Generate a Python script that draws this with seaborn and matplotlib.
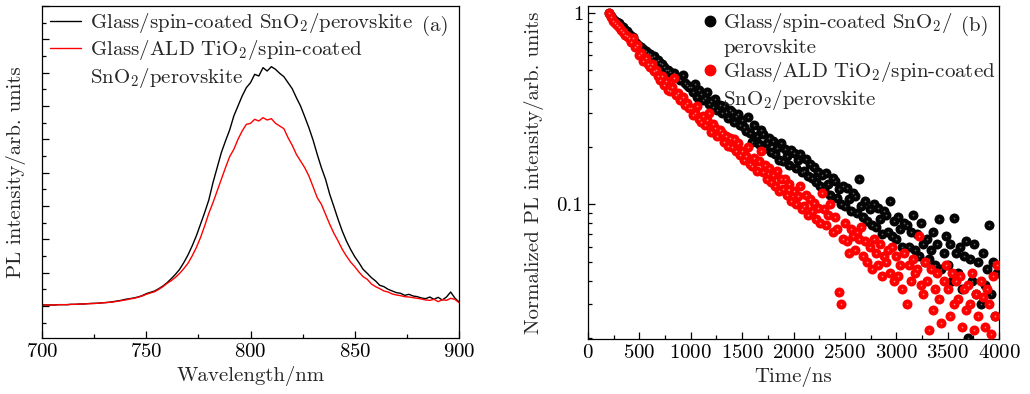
import numpy as np
import pandas as pd
import seaborn as sns
import matplotlib.pyplot as plt
from matplotlib.lines import Line2D
from matplotlib.ticker import MultipleLocator, LogLocator, FixedLocator, FixedFormatter, NullFormatter

# (a) steady-state PL, wavelength grid 700-900 nm every 2 nm
wavelength = np.arange(700, 901, 2)
pl_sno2 = [0.03, 0.03, 0.03, 0.03, 0.04, 0.04, 0.04, 0.05, 0.05, 0.06, 0.06, 0.07, 0.08, 0.08, 0.09, 0.10,
           0.11, 0.13, 0.15, 0.17, 0.20, 0.22, 0.24, 0.27, 0.31, 0.37, 0.41, 0.45, 0.52, 0.60, 0.70,
           0.82, 0.95, 1.10, 1.30, 1.53, 1.80, 2.10, 2.45, 2.80, 3.18, 3.70, 4.15, 4.60, 4.95, 5.28,
           5.70, 6.00, 6.30, 6.55, 6.70, 6.95, 6.90, 7.15, 7.05, 7.18, 7.10, 6.98, 6.88, 6.70, 6.52,
           6.25, 6.00, 5.68, 5.35, 4.98, 4.55, 4.15, 3.80, 3.35, 2.98, 2.60, 2.25, 1.95, 1.70, 1.48,
           1.30, 1.10, 0.98, 0.85, 0.75, 0.62, 0.58, 0.50, 0.45, 0.40, 0.38, 0.32, 0.35, 0.30, 0.28,
           0.24, 0.22, 0.27, 0.20, 0.26, 0.18, 0.27, 0.42, 0.24, 0.12]
pl_tio2_sno2 = [0.03, 0.03, 0.03, 0.03, 0.04, 0.04, 0.04, 0.05, 0.05, 0.06, 0.06, 0.07, 0.07, 0.08, 0.09, 0.10,
                0.11, 0.12, 0.14, 0.16, 0.18, 0.21, 0.23, 0.26, 0.30, 0.35, 0.39, 0.43, 0.50, 0.58, 0.68,
                0.76, 0.86, 0.98, 1.12, 1.28, 1.50, 1.75, 2.05, 2.40, 2.78, 3.10, 3.45, 3.80, 4.15, 4.48,
                4.70, 5.00, 5.25, 5.45, 5.48, 5.60, 5.55, 5.65, 5.58, 5.62, 5.48, 5.40, 5.32, 5.05, 4.82,
                4.55, 4.35, 4.15, 3.90, 3.58, 3.25, 3.05, 2.75, 2.45, 2.18, 1.95, 1.70, 1.50, 1.32, 1.18,
                1.02, 0.88, 0.80, 0.66, 0.58, 0.52, 0.45, 0.42, 0.36, 0.33, 0.31, 0.28, 0.27, 0.25, 0.23,
                0.21, 0.18, 0.17, 0.20, 0.13, 0.19, 0.17, 0.23, 0.20, 0.10]

# (b) TRPL, time grid 200-3980 ns every 20 ns, values x1000 (normalized)
time_ns = np.arange(200, 4000, 20)
trpl_sno2 = [1000, 960, 930, 905, 895, 880, 855, 845, 810, 800, 775, 760, 745, 700, 690,
             672, 665, 648, 630, 620, 612, 590, 595, 560, 565, 548, 540, 520, 505, 500,
             492, 470, 485, 460, 455, 448, 475, 430, 420, 410,
             412, 388, 425, 362, 395, 378, 352, 360, 385, 333,
             348, 322, 355, 311, 330, 298, 325, 305, 282, 310,
             302, 268, 288, 295, 258, 276, 252, 240, 285, 236,
             212, 258, 228, 206, 245, 232, 196, 210, 222, 188,
             214, 182, 196, 170, 208, 168, 195, 178, 160, 192,
             185, 155, 170, 182, 148, 150, 172, 140, 162, 138,
             156, 130, 148, 125, 142, 120, 145, 128, 112, 138,
             132, 108, 120, 100, 125, 98, 122, 106, 92, 115,
             110, 90, 135, 98, 86, 104, 82, 95, 78, 100,
             76, 96, 84, 70, 92, 88, 72, 104, 68, 82,
             66, 86, 74, 60, 80, 78, 60, 72, 88, 58,
             70, 54, 80, 62, 50, 66, 52, 58, 72, 48,
             62, 84, 46, 56, 68, 48, 62, 40, 85, 56,
             44, 60, 36, 54, 64, 20, 52, 40, 62, 34,
             50, 30, 56, 38, 46, 78, 34, 50, 26, 44]
trpl_tio2_sno2 = [1000, 950, 910, 880, 860, 845, 810, 790, 770, 760, 735, 700, 740, 660, 680,
                  600, 620, 560, 580, 540, 520, 540, 495, 500, 470, 445, 470, 420, 440, 395,
                  390, 410, 455, 370, 380, 350, 365, 330, 340, 320,
                  318, 292, 300, 325, 278, 268, 290, 258, 275, 300,
                  238, 262, 250, 228, 245, 236, 212, 228, 202, 222,
                  198, 220, 190, 208, 180, 190, 170, 178, 198, 162,
                  158, 175, 150, 168, 190, 148, 160, 136, 155, 130,
                  142, 125, 150, 118, 135, 120, 136, 112, 128, 104,
                  118, 100, 110, 124, 94, 98, 112, 88, 106, 92,
                  102, 84, 96, 80, 115, 94, 78, 88, 100, 72,
                  86, 74, 35, 30, 66, 80, 64, 56, 74, 68,
                  58, 72, 66, 76, 54, 64, 50, 60, 46, 66,
                  56, 48, 62, 42, 54, 50, 58, 44, 60, 40,
                  54, 42, 48, 36, 56, 30, 48, 40, 52, 44,
                  46, 68, 38, 34, 50, 40, 22, 46, 28, 36,
                  44, 32, 24, 40, 48, 36, 26, 44, 30, 40,
                  32, 42, 23, 36, 28, 38, 30, 44, 22, 34,
                  26, 40, 33, 23, 36, 30, 21, 42, 26, 48]

sns.set_style('ticks')
plt.rcParams['font.family'] = 'serif'
plt.rcParams['font.serif'] = ['cmr10', 'DejaVu Serif']
plt.rcParams['mathtext.fontset'] = 'cm'
plt.rcParams['axes.unicode_minus'] = False
plt.rcParams['axes.formatter.use_mathtext'] = True
fs = 15
plt.rcParams['font.size'] = fs

fig = plt.figure(figsize=(10.3, 3.94), dpi=100)
ax1 = fig.add_axes([42 / 1030, 56 / 394, 417 / 1030, 332 / 394])
ax2 = fig.add_axes([588 / 1030, 55 / 394, 411 / 1030, 333 / 394])

blank = Line2D([], [], linestyle='none')

# ---- panel (a)
sns.lineplot(x=wavelength, y=pl_sno2, ax=ax1, color='black', lw=1.0, estimator=None, sort=False)
sns.lineplot(x=wavelength, y=pl_tio2_sno2, ax=ax1, color='red', lw=1.0, estimator=None, sort=False)
ax1.set_xlim(700, 900)
ax1.set_ylim(-0.96, 9.0)
ax1.xaxis.set_major_locator(MultipleLocator(50))
ax1.xaxis.set_minor_locator(MultipleLocator(25))
ax1.yaxis.set_major_locator(MultipleLocator(1))
ax1.yaxis.set_minor_locator(MultipleLocator(0.5))
ax1.yaxis.set_major_formatter(NullFormatter())
ax1.set_xlabel('Wavelength/nm')
ax1.set_ylabel('PL intensity/arb. units', labelpad=8)
h_a = [Line2D([], [], color='black', lw=1.0), Line2D([], [], color='red', lw=1.0), blank]
l_a = ['Glass/spin-coated SnO$_2$/perovskite', 'Glass/ALD TiO$_2$/spin-coated', 'SnO$_2$/perovskite']
ax1.legend(h_a, l_a, loc='upper left', bbox_to_anchor=(0.019, 0.985), frameon=False,
           handlelength=1.5, handletextpad=0.4, borderaxespad=0, borderpad=0,
           labelspacing=0.16, fontsize=fs)
ax1.text(0.975, 0.94, '(a)', transform=ax1.transAxes, ha='right', va='center')

# ---- panel (b)
yb1 = np.array(trpl_sno2) / 1000
yb2 = np.array(trpl_tio2_sno2) / 1000
sns.scatterplot(x=time_ns, y=yb1, ax=ax2, color='#050505', s=52, linewidth=0, zorder=3)
sns.scatterplot(x=time_ns, y=yb1, ax=ax2, color='#606060', s=1.5, linewidth=0, zorder=3)
sns.scatterplot(x=time_ns, y=yb2, ax=ax2, color='#ff0000', s=52, linewidth=0, zorder=4)
sns.scatterplot(x=time_ns, y=yb2, ax=ax2, color='#ff8080', s=1.5, linewidth=0, zorder=4)
ax2.set_yscale('log')
ax2.set_xlim(0, 4000)
ax2.set_ylim(0.0198, 1.085)
ax2.xaxis.set_major_locator(MultipleLocator(500))
ax2.xaxis.set_minor_locator(MultipleLocator(250))
ax2.yaxis.set_major_locator(FixedLocator([0.1, 1]))
ax2.yaxis.set_major_formatter(FixedFormatter(['0.1', '1']))
ax2.yaxis.set_minor_locator(LogLocator(base=10, subs=np.arange(2, 10)))
ax2.yaxis.set_minor_formatter(NullFormatter())
ax2.set_xlabel('Time/ns')
ax2.set_ylabel('Normalized PL intensity/arb. units', labelpad=9)
dot_k = Line2D([], [], linestyle='none', marker='o', markersize=7.5, color='#050505')
dot_r = Line2D([], [], linestyle='none', marker='o', markersize=7.5, color='#ff0000')
h_b = [dot_k, blank, dot_r, blank]
l_b = ['Glass/spin-coated SnO$_2$/', 'perovskite', 'Glass/ALD TiO$_2$/spin-coated', 'SnO$_2$/perovskite']
ax2.legend(h_b, l_b, loc='upper left', bbox_to_anchor=(0.282, 0.985), frameon=False,
           handlelength=0.6, handletextpad=0.32, borderaxespad=0, borderpad=0,
           labelspacing=0.16, fontsize=fs)
ax2.text(0.975, 0.94, '(b)', transform=ax2.transAxes, ha='right', va='center')

for ax in (ax1, ax2):
    for sp in ax.spines.values():
        sp.set_linewidth(0.9)
        sp.set_color('black')
    ax.tick_params(which='both', direction='in', top=False, right=False, colors='black',
                   labelsize=fs, width=0.9)
    ax.tick_params(which='major', length=5)
    ax.tick_params(which='minor', length=3)

fig.savefig('out.png', dpi=100)
